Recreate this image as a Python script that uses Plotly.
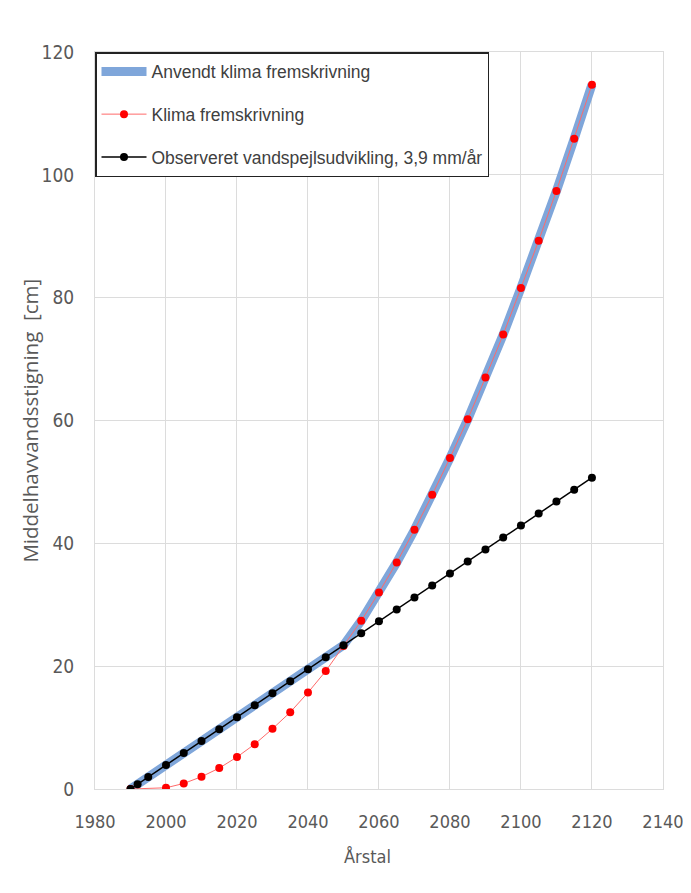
import plotly.graph_objects as go

# Data
obs_years = [1990, 1992, 1995, 2000, 2005, 2010, 2015, 2020, 2025, 2030, 2035, 2040, 2045, 2050,
             2055, 2060, 2065, 2070, 2075, 2080, 2085, 2090, 2095, 2100, 2105, 2110, 2115, 2120]
obs_values = [0.0, 0.78, 1.95, 3.9, 5.85, 7.8, 9.75, 11.7, 13.65, 15.6, 17.55, 19.5, 21.45, 23.4,
              25.35, 27.3, 29.25, 31.2, 33.15, 35.1, 37.05, 39.0, 40.95, 42.9, 44.85, 46.8, 48.75, 50.7]

clim_years = [1990, 2000, 2005, 2010, 2015, 2020, 2025, 2030, 2035, 2040, 2045, 2050,
              2055, 2060, 2065, 2070, 2075, 2080, 2085, 2090, 2095, 2100, 2105, 2110, 2115, 2120]
clim_values = [0.0, 0.2, 0.9, 2.0, 3.4, 5.2, 7.3, 9.8, 12.5, 15.7, 19.2, 23.3,
               27.4, 32.0, 36.9, 42.2, 47.9, 53.9, 60.2, 67.0, 74.0, 81.6, 89.3, 97.4, 105.9, 114.7]

applied_years = [1990, 2050, 2055, 2060, 2065, 2070, 2075, 2080, 2085, 2090, 2095, 2100, 2105, 2110, 2115, 2120]
applied_values = [0.0, 23.4, 27.4, 32.0, 36.9, 42.2, 47.9, 53.9, 60.2, 67.0, 74.0, 81.6, 89.3, 97.4, 105.9, 114.7]

x_ticks = [1980, 2000, 2020, 2040, 2060, 2080, 2100, 2120, 2140]
y_ticks = [0, 20, 40, 60, 80, 100, 120]

names = ["Anvendt klima fremskrivning", "Klima fremskrivning", "Observeret vandspejlsudvikling, 3,9 mm/år"]
x_title = "Årstal"
y_title = "Middelhavvandsstigning  [cm]"

narrow = "DejaVu Sans Condensed, Liberation Sans Narrow, Arial Narrow, sans-serif"
legend_font = "Liberation Sans, Arial, sans-serif"
grid = "#DCDCDC"

fig = go.Figure()
fig.add_trace(go.Scatter(x=applied_years, y=applied_values, mode="lines", name=names[0],
                         legendgroup="a", line=dict(color="#7FA6DA", width=9)))
fig.add_trace(go.Scatter(x=clim_years, y=clim_values, mode="lines+markers", name=names[1],
                         legendgroup="b", line=dict(color="#FF6A6A", width=1),
                         marker=dict(color="#FF0000", size=8)))
fig.add_trace(go.Scatter(x=obs_years, y=obs_values, mode="lines+markers", name=names[2],
                         legendgroup="c", line=dict(color="#000000", width=1.5),
                         marker=dict(color="#000000", size=8)))

fig.update_layout(
    width=675, height=877,
    margin=dict(l=87, r=20, t=44, b=96, autoexpand=False),
    paper_bgcolor="white",
    plot_bgcolor="white",
    showlegend=True,
    legend=dict(x=0, y=1, xanchor="left", yanchor="top",
                bgcolor="white", bordercolor="#222222", borderwidth=1.5,
                font=dict(family=legend_font, size=17.5, color="#404040"),
                itemwidth=45,
                traceorder="grouped", tracegroupgap=17),
    xaxis=dict(range=[1980, 2140.02], tickvals=x_ticks, showgrid=True, gridcolor=grid,
               gridwidth=1, zeroline=False, showline=True, mirror=True, linecolor=grid, linewidth=1,
               tickfont=dict(family=narrow, size=18, color="#595959"),
               ticklabeloverflow="allow", automargin=False,
               ticklabelstandoff=16),
    yaxis=dict(range=[0, 120.02], tickvals=y_ticks, showgrid=True, gridcolor=grid,
               gridwidth=1, zeroline=False, showline=True, mirror=True, linecolor=grid, linewidth=1,
               tickfont=dict(family=narrow, size=19, color="#595959"),
               automargin=False,
               ticklabelstandoff=16),
    annotations=[
        dict(text=x_title, xref="paper", yref="paper", x=0.4806, y=-0.092,
             xanchor="center", yanchor="middle", showarrow=False,
             font=dict(family=narrow, size=18, color="#595959")),
        dict(text=y_title, xref="paper", yref="paper", x=-0.116, y=0.5,
             xanchor="center", yanchor="middle", showarrow=False, textangle=-90,
             font=dict(family="Open Sans, sans-serif", size=20.5, color="#595959")),
    ],
)

fig.write_html("out.html")
